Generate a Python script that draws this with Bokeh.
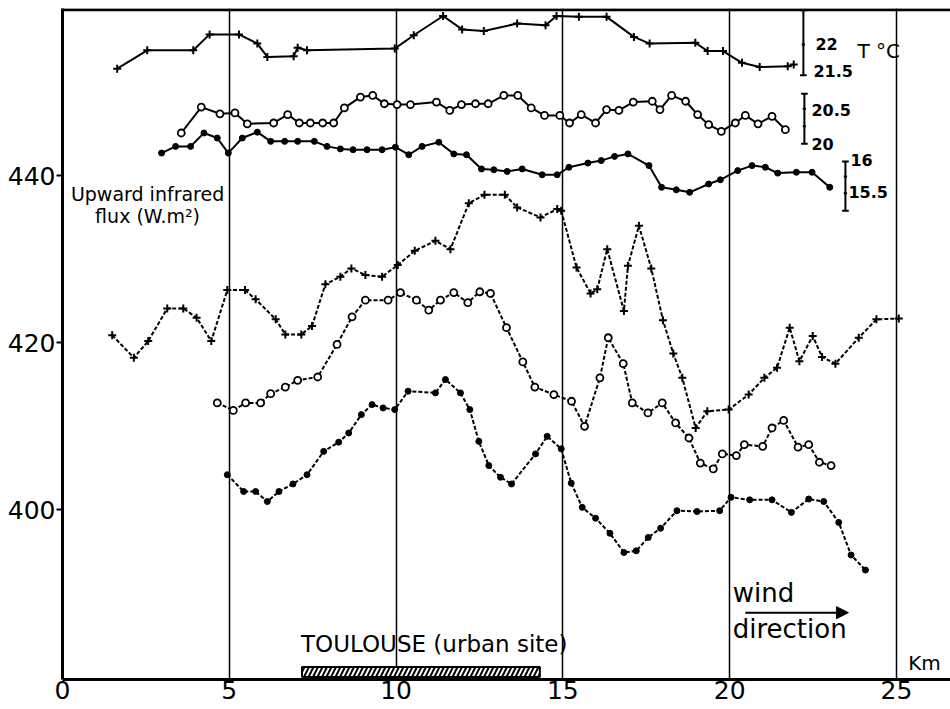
from bokeh.plotting import figure
from bokeh.models import Range1d, FixedTicker, Arrow, NormalHead, Span
from bokeh.core.properties import value
from bokeh.embed import file_html
from bokeh.resources import INLINE

# ---------------- data (distance in km, values in the flux-axis units) ----------------
# Temperature traces (drawn against the flux axis, read in axis units)
t1_x = [1.64, 2.54, 3.92, 4.41, 5.29, 5.84, 6.14, 6.93, 7.05, 7.33, 9.96, 10.53, 11.41, 11.98, 12.63,
        13.63, 14.48, 14.81, 15.48, 16.31, 17.13, 17.60, 18.97, 19.34, 19.80, 20.37, 20.90, 21.74, 21.92]
t1_y = [452.8, 455.0, 455.0, 456.9, 456.9, 455.8, 454.2, 454.3, 455.3, 455.0, 455.2, 456.8, 459.1, 457.5, 457.3,
        458.2, 458.0, 459.1, 459.0, 459.0, 456.6, 455.8, 455.9, 454.9, 454.9, 453.5, 453.0, 453.1, 453.3]

t2_x = [3.56, 4.16, 4.72, 5.17, 5.54, 6.33, 6.75, 7.10, 7.43, 7.80, 8.13, 8.45, 8.93, 9.30, 9.65, 10.03,
        10.43, 11.21, 11.61, 11.96, 12.38, 12.76, 13.23, 13.65, 14.05, 14.45, 14.91, 15.20, 15.55, 15.98,
        16.31, 16.68, 17.11, 17.68, 17.91, 18.26, 18.68, 19.04, 19.37, 19.75, 20.17, 20.47, 20.85, 21.27, 21.67]
t2_y = [445.1, 448.2, 447.4, 447.5, 446.2, 446.3, 447.3, 446.3, 446.3, 446.3, 446.3, 448.1, 449.4, 449.6, 448.6, 448.5,
        448.5, 448.8, 447.8, 448.5, 448.6, 448.6, 449.6, 449.6, 448.1, 447.2, 447.2, 446.3, 447.3, 446.3,
        447.9, 447.8, 448.8, 448.9, 447.9, 449.6, 448.9, 447.3, 446.1, 445.3, 446.3, 447.2, 446.2, 447.1, 445.5]

t3_x = [2.97, 3.39, 3.84, 4.24, 4.64, 4.97, 5.39, 5.84, 6.24, 6.66, 7.05, 7.55, 7.93, 8.33, 8.71, 9.13, 9.58,
        9.98, 10.38, 10.78, 11.28, 11.73, 12.11, 12.56, 12.93, 13.33, 13.78, 14.38, 14.83, 15.18, 15.75, 16.15,
        16.55, 16.95, 17.58, 17.96, 18.40, 18.80, 19.37, 19.72, 20.24, 20.67, 21.07, 21.44, 22.00, 22.47, 23.00]
t3_y = [442.7, 443.5, 443.5, 445.1, 444.5, 442.7, 444.5, 445.2, 444.1, 444.1, 444.1, 444.1, 443.5, 443.2, 443.1, 443.1, 443.1,
        443.4, 442.5, 443.5, 444.0, 442.6, 442.5, 440.8, 440.7, 440.5, 440.8, 440.1, 440.1, 441.0, 441.5, 441.8,
        442.3, 442.6, 441.2, 438.6, 438.3, 438.0, 439.0, 439.5, 440.6, 441.2, 441.0, 440.3, 440.4, 440.4, 438.6]

# Upward infrared flux traces (W m-2)
f1_x = [1.49, 2.14, 2.57, 3.14, 3.62, 4.02, 4.46, 4.94, 5.47, 5.79, 6.39, 6.68, 7.16, 7.48, 7.88, 8.33, 8.66,
        9.08, 9.58, 10.05, 10.56, 11.18, 11.63, 12.18, 12.65, 13.26, 13.63, 14.33, 14.83, 14.95, 15.41, 15.83,
        16.03, 16.33, 16.83, 16.95, 17.28, 17.65, 18.00, 18.31, 18.58, 18.98, 19.33, 19.97, 20.57, 21.04, 21.42,
        21.80, 22.09, 22.49, 22.77, 23.17, 23.87, 24.40, 25.07]
f1_y = [420.9, 418.2, 420.2, 424.1, 424.1, 423.0, 420.2, 426.3, 426.3, 425.2, 422.8, 421.0, 421.0, 422.0, 427.0, 427.9, 428.9,
        428.1, 427.9, 429.3, 431.0, 432.2, 431.2, 436.7, 437.7, 437.7, 436.2, 435.0, 436.0, 435.8, 429.0, 425.9,
        426.4, 431.2, 423.8, 429.2, 434.0, 428.9, 422.7, 418.7, 415.8, 409.8, 411.8, 412.0, 413.8, 415.8, 417.0,
        421.8, 417.8, 420.8, 418.3, 417.5, 420.6, 422.8, 422.9]

f2_x = [4.64, 5.12, 5.49, 5.94, 6.24, 6.68, 7.05, 7.65, 8.23, 8.68, 9.08, 9.76, 10.13, 10.61, 10.98, 11.33, 11.73,
        12.15, 12.51, 12.83, 13.31, 13.80, 14.16, 14.73, 15.26, 15.65, 16.11, 16.36, 16.81, 17.08, 17.55, 17.98,
        18.38, 18.78, 19.12, 19.51, 19.78, 20.20, 20.44, 20.99, 21.27, 21.62, 22.05, 22.37, 22.69, 23.04]
f2_y = [412.8, 411.9, 412.8, 412.8, 413.9, 414.7, 415.5, 415.9, 419.8, 423.1, 425.1, 425.1, 426.0, 425.1, 423.9, 425.1, 426.0,
        424.8, 426.1, 425.9, 421.8, 417.7, 414.7, 413.8, 413.0, 410.0, 415.8, 420.6, 417.5, 412.8, 411.6, 412.8,
        410.4, 408.6, 405.6, 404.9, 406.7, 406.5, 407.8, 407.6, 409.8, 410.7, 407.5, 407.8, 405.7, 405.3]

f3_x = [4.94, 5.43, 5.79, 6.14, 6.49, 6.91, 7.33, 7.83, 8.28, 8.58, 8.96, 9.28, 9.61, 9.96, 10.36, 11.18, 11.48,
        11.93, 12.21, 12.48, 12.78, 13.13, 13.46, 14.18, 14.53, 14.95, 15.25, 15.58, 15.98, 16.41, 16.83, 17.20,
        17.56, 17.93, 18.42, 19.02, 19.70, 20.04, 20.60, 21.27, 21.85, 22.37, 22.82, 23.27, 23.64, 24.07]
f3_y = [404.2, 402.2, 402.2, 401.0, 402.2, 403.1, 404.2, 407.0, 408.1, 409.2, 411.4, 412.6, 412.2, 412.0, 414.2, 414.0, 415.6,
        414.0, 412.0, 408.2, 405.3, 403.9, 403.1, 406.7, 408.8, 407.3, 403.2, 400.3, 399.0, 397.2, 394.9, 395.1,
        396.7, 397.8, 399.9, 399.8, 399.9, 401.5, 401.2, 401.2, 399.7, 401.3, 401.0, 398.5, 394.6, 392.8]

x_ticks = [0, 5, 10, 15, 20, 25]
y_ticks = [400, 420, 440]
urban_km = [7.18, 14.31]

# temperature scale bars: (x, bottom, top, inner ticks) in axis units
bars = [
    (22.21, 452.0, 459.8, [455.7]),
    (22.24, 443.8, 449.8, [448.0, 445.9]),
    (23.47, 435.8, 441.7, [439.9, 437.9]),
]
bar_labels = ["22", "21.5", "20.5", "20", "16", "15.5"]
bar_label_x = [22.57, 22.51, 22.45, 22.45, 23.62, 23.56]
bar_label_y = [455.8, 452.5, 447.9, 443.8, 441.9, 438.0]

FONT = "DejaVu Sans"

p = figure(width=950, height=709, output_backend="svg", toolbar_location=None,
           x_range=Range1d(0, 26.62), y_range=Range1d(379.7, 460.0),
           min_border_left=62, min_border_right=0, min_border_top=8, min_border_bottom=30)
p.background_fill_color = "white"
p.border_fill_color = "white"
p.outline_line_color = None

# axes
p.xaxis.ticker = FixedTicker(ticks=x_ticks)
p.yaxis.ticker = FixedTicker(ticks=y_ticks)
for ax in (p.xaxis[0], p.yaxis[0]):
    ax.axis_line_width = 3
    ax.axis_line_color = "black"
    ax.major_label_text_font = FONT
    ax.major_label_text_font_size = "25px"
    ax.major_label_text_color = "black"
    ax.minor_tick_line_color = None
    ax.major_tick_line_color = "black"
    ax.major_tick_line_width = 2
p.xaxis.major_tick_out = 0
p.xaxis.major_tick_in = 0
p.xaxis.major_label_standoff = 1
p.yaxis.major_tick_out = 6
p.yaxis.major_tick_in = 0
p.yaxis.major_label_standoff = 1

p.xgrid.ticker = FixedTicker(ticks=[5, 10, 15, 20, 25])
p.xgrid.grid_line_color = "black"
p.xgrid.grid_line_width = 1.5
p.ygrid.grid_line_color = None

# top frame line
p.add_layout(Span(location=459.85, dimension="width", line_color="black", line_width=3))

# temperature traces (solid)
p.line(t1_x, t1_y, line_color="black", line_width=2)
p.scatter(t1_x, t1_y, marker="cross", size=8, line_color="black", line_width=2)
p.line(t2_x, t2_y, line_color="black", line_width=2)
p.scatter(t2_x, t2_y, marker="circle", size=7, line_color="black", fill_color="white", line_width=1.8)
p.line(t3_x, t3_y, line_color="black", line_width=2)
p.scatter(t3_x, t3_y, marker="circle", size=6, line_color="black", fill_color="black")

# flux traces (dashed)
p.line(f1_x, f1_y, line_color="black", line_width=2, line_dash="4 2")
p.scatter(f1_x, f1_y, marker="cross", size=8, line_color="black", line_width=2)
p.line(f2_x, f2_y, line_color="black", line_width=2, line_dash="4 2")
p.scatter(f2_x, f2_y, marker="circle", size=7, line_color="black", fill_color="white", line_width=1.8)
p.line(f3_x, f3_y, line_color="black", line_width=2, line_dash="4 2")
p.scatter(f3_x, f3_y, marker="circle", size=6, line_color="black", fill_color="black")

# scale bars
for bx, b0, b1, inner in bars:
    p.segment(x0=[bx], y0=[b0], x1=[bx], y1=[b1], line_color="black", line_width=2)
    caps = [b0, b1]
    p.segment(x0=[bx - 0.1] * 2, y0=caps, x1=[bx + 0.1] * 2, y1=caps, line_color="black", line_width=2)
    p.segment(x0=[bx - 0.05] * len(inner), y0=inner, x1=[bx + 0.05] * len(inner), y1=inner,
              line_color="black", line_width=2)
p.text(x=bar_label_x, y=bar_label_y, text=bar_labels, text_font=value(FONT), text_font_size="16px",
       text_font_style="bold", text_baseline="middle", text_align="left", text_color="black")
p.text(x=[23.83], y=[454.9], text=["T °C"], text_font=value(FONT), text_font_size="20px",
       text_baseline="middle", text_align="left", text_color="black")

# urban site bar
p.quad(left=[urban_km[0]], right=[urban_km[1]], bottom=[380.0], top=[381.2], fill_color="white",
       line_color="black", line_width=2, hatch_pattern="right_diagonal_line", hatch_color="black",
       hatch_weight=2, hatch_scale=9)
p.text(x=[7.15], y=[384.0], text=["TOULOUSE (urban site)"], text_font=value(FONT), text_font_size="23px",
       text_baseline="alphabetic", text_align="left", text_color="black")

# y-axis caption
p.text(x=[2.55, 2.55], y=[437.8, 435.2], text=["Upward infrared", "flux (W.m²)"], text_font=value(FONT),
       text_font_size="19px", text_baseline="alphabetic", text_align="center", text_color="black")

# wind direction
p.text(x=[20.09, 20.09], y=[390.1, 385.8], text=["wind", "direction"], text_font=value(FONT),
       text_font_size="26px", text_baseline="alphabetic", text_align="left", text_color="black")
p.add_layout(Arrow(x_start=20.47, y_start=387.7, x_end=23.56, y_end=387.7, line_color="black", line_width=2,
                   end=NormalHead(size=12, fill_color="black", line_color="black")))

p.text(x=[25.35], y=[381.7], text=["Km"], text_font=value(FONT), text_font_size="20px",
       text_baseline="alphabetic", text_align="left", text_color="black")

open("out.html", "w").write(file_html(p, INLINE))
